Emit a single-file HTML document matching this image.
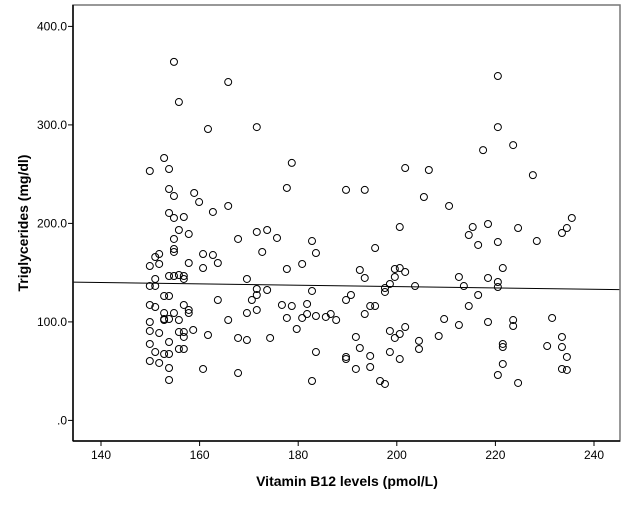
<!DOCTYPE html>
<html><head><meta charset="utf-8"><style>
body{margin:0;background:#fff;}
svg{display:block;font-family:"Liberation Sans",Arial,sans-serif;}
</style></head><body>
<svg id="chart" width="625" height="526" viewBox="0 0 625 526">
<rect x="0" y="0" width="625" height="526" fill="#fff"/>
<g id="plot"></g>
<g id="axes"></g>
<text x="347" y="486" text-anchor="middle" font-size="14" font-weight="bold">Vitamin B12 levels (pmol/L)</text>
<text transform="translate(28,223) rotate(-90)" text-anchor="middle" font-size="14" font-weight="bold">Triglycerides (mg/dl)</text>
</svg>
<script>
const xTicks=[140,160,180,200,220,240];
const yTicks=[0,100,200,300,400];
const yTickLabels=[".0","100.0","200.0","300.0","400.0"];
const xVals=[154.8,165.8,155.8,161.7,171.6,152.8,149.9,153.8,153.8,154.8,158.9,159.9,165.8,162.7,153.8,154.8,156.8,155.8,157.8,167.8,171.6,173.7,154.8,
154.8,154.8,151.8,151.0,160.7,162.7,172.7,149.9,151.8,157.8,160.7,163.7,151.0,153.8,154.8,155.8,156.8,156.8,169.6,149.9,151.0,152.8,153.8,171.6,173.7,171.6,170.6,163.7,149.9,151.0,156.8,157.8,157.8,152.8,154.8,171.6,169.6,152.8,152.8,153.8,155.8,165.8,149.9,149.9,151.8,155.8,156.8,158.7,156.8,161.7,167.8,169.6,174.3,153.8,149.9,151.0,152.8,153.8,155.8,156.8,149.9,151.8,153.8,160.7,167.8,153.8,
178.7,177.7,189.7,193.5,201.7,206.5,205.5,175.7,182.8,183.6,195.6,200.6,177.7,180.8,192.5,193.5,199.6,200.6,201.7,199.6,198.6,197.6,197.6,203.7,182.8,190.7,189.7,176.7,178.7,181.8,194.6,195.6,193.5,177.7,180.8,181.8,183.6,185.6,186.6,187.7,179.7,201.7,200.6,198.6,199.6,191.7,204.5,204.5,192.5,183.6,198.6,189.7,189.7,194.6,200.6,191.7,194.6,182.8,196.6,197.6,
220.5,220.5,217.5,223.6,227.6,210.6,218.5,215.4,214.6,216.5,220.5,224.6,228.4,235.5,234.5,233.5,221.5,212.6,218.5,220.5,220.5,213.6,216.5,214.6,209.6,212.6,218.5,223.6,223.6,231.5,208.5,233.5,221.5,221.5,230.5,233.5,234.5,221.5,233.5,234.5,220.5,224.6];
const yVals=[364.0,343.5,323.2,295.8,297.8,266.4,253.2,255.2,234.9,227.8,230.9,221.7,217.7,211.6,210.6,205.5,206.5,193.3,189.2,184.2,191.3,193.3,184.2,
174.0,171.0,168.9,165.9,168.9,167.9,171.0,156.7,158.8,159.8,154.7,159.8,143.6,146.6,146.6,147.6,146.6,143.6,143.6,136.5,136.5,126.3,126.3,133.4,132.4,127.3,122.2,122.2,117.2,115.1,117.2,112.1,109.0,109.0,109.0,112.1,109.0,102.9,101.9,102.9,101.9,101.9,99.9,90.8,88.7,89.7,89.7,91.8,84.7,86.7,83.7,81.6,83.7,79.6,77.6,69.4,67.4,67.4,72.5,72.5,60.3,58.3,53.2,52.2,48.1,41.0,
261.4,236.0,234.0,234.0,256.2,254.2,226.8,185.2,182.1,169.9,175.0,196.3,153.7,158.8,152.7,144.6,153.7,154.7,150.7,145.6,138.5,134.4,130.4,136.4,131.4,127.3,122.2,117.2,116.1,118.2,116.1,116.1,108.0,104.0,104.0,108.0,106.0,105.0,108.0,101.9,92.8,94.8,87.7,90.8,83.7,84.7,80.7,72.5,73.5,69.4,69.4,64.4,62.3,65.4,62.3,52.2,54.2,40.0,40.0,37.0,
349.6,297.8,274.4,279.5,249.0,217.7,199.4,196.3,188.2,178.1,181.1,195.3,182.1,205.5,195.3,190.2,154.7,145.6,144.6,140.5,135.4,136.4,127.3,116.1,102.9,96.8,99.9,101.9,95.8,104.0,85.7,84.7,77.6,74.5,75.5,74.5,64.4,57.3,52.2,51.2,46.1,38.0];
const fitIntercept=149.7, fitSlope=-0.069;

const L=73,R=620,T=5,B=441;
function sx(v){return 101+(v-140)*4.93;}
function sy(v){return 420.4-v*0.985;}
const NS="http://www.w3.org/2000/svg";
const plot=document.getElementById('plot'), axes=document.getElementById('axes');
function mk(tag,attrs,parent){const e=document.createElementNS(NS,tag);for(const k in attrs)e.setAttribute(k,attrs[k]);parent.appendChild(e);return e;}
// frame
let fr=mk('rect',{x:L,y:T,width:R-L,height:B-T,fill:'none',stroke:'#777','stroke-width':1.5},axes);


let la=mk('line',{x1:L,y1:T,x2:L,y2:B,stroke:'#000','stroke-width':1.5},axes);


let ba=mk('line',{x1:L,y1:B,x2:R,y2:B,stroke:'#000','stroke-width':1.5},axes);


xTicks.forEach(function(t){
  const x=sx(t);
  const tk=mk('line',{x1:x,y1:B,x2:x,y2:B+5,stroke:'#000','stroke-width':1},axes);
  
  
  const tx=mk('text',{x:x,y:B+18,'text-anchor':'middle','font-size':12},axes);
  tx.textContent=String(t);
  
  
});
yTicks.forEach(function(t,i){
  const y=sy(t);
  const tk=mk('line',{x1:L-5,y1:y,x2:L,y2:y,stroke:'#000','stroke-width':1},axes);
  
  
  const tx=mk('text',{x:L-6,y:y+4,'text-anchor':'end','font-size':12},axes);
  tx.textContent=yTickLabels[i];
  
  
});
// fit line
const x0=140+(L-101)/4.93, x1=140+(R-101)/4.93;
const fl=mk('line',{x1:L,y1:sy(fitIntercept+fitSlope*x0),x2:R,y2:sy(fitIntercept+fitSlope*x1),stroke:'#000','stroke-width':1},plot);


for(let i=0;i<xVals.length;i++){
  const c=mk('circle',{cx:sx(xVals[i]),cy:sy(yVals[i]),r:3.5,fill:'none',stroke:'#000','stroke-width':1},plot);
  
  
}
</script>
</body></html>
